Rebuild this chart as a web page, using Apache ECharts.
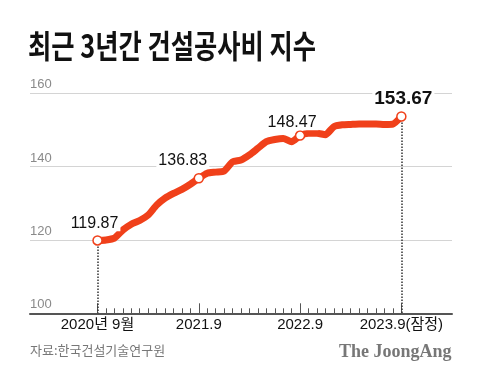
<!DOCTYPE html>
<html>
<head>
<meta charset="utf-8">
<script src="https://cdn.jsdelivr.net/npm/echarts@6/dist/echarts.min.js"></script>
<style>
html,body{margin:0;padding:0;background:#fff;}
#chart{width:480px;height:387px;}
</style>
</head>
<body>
<div id="chart"></div>
<script>
// Months on the axis (2020.1 .. 2024.3), data spans 2020.9 .. 2023.9
var categories = [
  '2020.1','2020.2','2020.3','2020.4','2020.5','2020.6','2020.7','2020.8',
  '2020.9','2020.10','2020.11','2020.12',
  '2021.1','2021.2','2021.3','2021.4','2021.5','2021.6','2021.7','2021.8',
  '2021.9','2021.10','2021.11','2021.12',
  '2022.1','2022.2','2022.3','2022.4','2022.5','2022.6','2022.7','2022.8',
  '2022.9','2022.10','2022.11','2022.12',
  '2023.1','2023.2','2023.3','2023.4','2023.5','2023.6','2023.7','2023.8',
  '2023.9','2023.10','2023.11','2023.12',
  '2024.1','2024.2','2024.3'
];
var dataStart = '2020.9';
var dataEnd = '2023.9';
var values = [119.87, 120.0, 120.5, 122.7, 124.3, 125.3, 126.8, 129.5, 131.4, 132.7, 133.8, 135.2,
  136.83, 138.2, 138.5, 138.8, 141.3, 141.8, 143.2, 145.0, 146.8, 147.4, 147.7, 146.8,
  148.47, 149.1, 149.1, 148.7, 150.9, 151.4, 151.5, 151.6, 151.6, 151.6, 151.5, 151.6,
  153.67];
var tickCats = ['2020.9', '2021.9', '2022.9', '2023.9'];
var tickLabels = ['2020년 9월', '2021.9', '2022.9', '2023.9(잠정)'];
var highlightCats = ['2020.9', '2021.9', '2022.9', '2023.9'];
var yTicks = [100, 120, 140, 160];
var titleText = '최근 3년간 건설공사비 지수';
var sourceText = '자료:한국건설기술연구원';
var brandText = 'The JoongAng';

var RED = '#f0401a';
var startIdx = categories.indexOf(dataStart);
var endIdx = categories.indexOf(dataEnd);

var labelStyles = {
  '2020.9': {distance: 4, offset: [-3, 0], fontSize: 16, fontWeight: 'normal'},
  '2021.9': {distance: 4, offset: [-16, 0], fontSize: 16, fontWeight: 'normal'},
  '2022.9': {distance: 0, offset: [-8, 0], fontSize: 16, fontWeight: 'normal'},
  '2023.9': {distance: 3, offset: [2, 0], fontSize: 19, fontWeight: 'bold'}
};

var seriesData = categories.map(function (c, i) {
  if (i < startIdx || i > endIdx) return '-';
  var v = values[i - startIdx];
  if (highlightCats.indexOf(c) >= 0) {
    var ls = labelStyles[c];
    return {
      value: v,
      symbol: 'circle',
      symbolSize: 9,
      itemStyle: {color: '#fff', borderColor: RED, borderWidth: 1.5},
      label: {
        show: true, position: 'top', distance: ls.distance, offset: ls.offset,
        formatter: v.toFixed(2), fontSize: ls.fontSize, fontWeight: ls.fontWeight,
        color: '#111', fontFamily: 'Liberation Sans, Arial, sans-serif',
        backgroundColor: '#fff', padding: [0, 2]
      }
    };
  }
  return v;
});

var dotted = [dataStart, dataEnd].map(function (c) {
  var v = values[categories.indexOf(c) - startIdx];
  return [{coord: [c, v]}, {coord: [c, yTicks[0]]}];
});

var chart = echarts.init(document.getElementById('chart'), null, {renderer: 'canvas'});
chart.setOption({
  animation: false,
  backgroundColor: '#fff',
  grid: {left: 30, right: 28, top: 93.3, bottom: 73.7, containLabel: false},
  xAxis: [{
    type: 'category', data: categories, boundaryGap: false, position: 'bottom',
    axisLine: {show: true, lineStyle: {color: '#555', width: 2}},
    axisTick: {show: true, inside: true, length: 10, lineStyle: {color: '#555', width: 1},
      interval: function (idx, val) { return tickCats.indexOf(val) >= 0; }},
    axisLabel: {show: true, margin: 4, fontSize: 15, color: '#111',
      fontFamily: 'Liberation Sans, Noto Sans CJK KR, sans-serif',
      interval: function (idx, val) { return tickCats.indexOf(val) >= 0; },
      formatter: function (val) { var k = tickCats.indexOf(val); return k >= 0 ? tickLabels[k] : ''; }},
    splitLine: {show: false}
  }, {
    type: 'category', data: categories, boundaryGap: false, position: 'bottom', gridIndex: 0,
    axisLine: {show: false},
    axisTick: {show: true, inside: true, length: 5, lineStyle: {color: '#555', width: 1},
      interval: function (idx) { return idx >= startIdx && idx <= endIdx; }},
    axisLabel: {show: false},
    splitLine: {show: false}
  }],
  yAxis: {
    type: 'value', min: yTicks[0], max: yTicks[yTicks.length - 1], interval: 20,
    axisLine: {show: false}, axisTick: {show: false},
    axisLabel: {inside: true, margin: 0, verticalAlign: 'bottom', fontSize: 13, color: '#8a8a8a',
      fontFamily: 'Liberation Sans, Arial, sans-serif', padding: [0, 0, 2, 0]},
    splitLine: {show: true, lineStyle: {color: '#d4d4d4', width: 1}}
  },
  series: [{
    type: 'line', xAxisIndex: 0, data: seriesData, symbol: 'none', smooth: 0.2,
    lineStyle: {color: RED, width: 7, cap: 'round', join: 'round'},
    itemStyle: {color: RED},
    z: 3,
    markLine: {
      silent: true, symbol: 'none', label: {show: false},
      lineStyle: {type: 'dotted', color: '#333', width: 1.5},
      data: dotted, z: 1
    }
  }],
  graphic: [
    {type: 'text', x: 28, y: 30, scaleX: 0.79, scaleY: 1, z: 10,
      style: {text: titleText, font: 'bold 32px "Noto Sans CJK KR", sans-serif', fill: '#111', textVerticalAlign: 'top'}},
    {type: 'text', x: 30, y: 344, z: 10,
      style: {text: sourceText, font: '13px "Noto Sans CJK KR", sans-serif', fill: '#777', textVerticalAlign: 'top'}},
    {type: 'text', x: 339, y: 343, z: 10,
      style: {text: brandText, font: 'bold 18px "Liberation Serif", serif', fill: '#777', textVerticalAlign: 'top'}}
  ]
});
</script>
</body>
</html>
